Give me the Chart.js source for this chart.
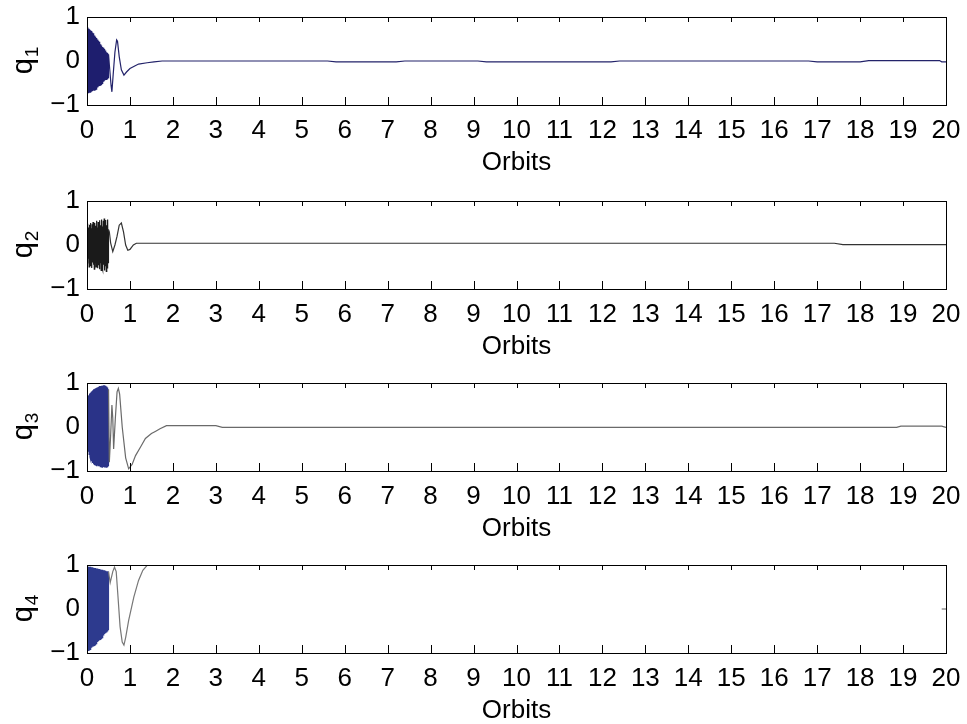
<!DOCTYPE html>
<html>
<head>
<meta charset="utf-8">
<script src="https://cdn.jsdelivr.net/npm/chart.js@4.4.1/dist/chart.umd.min.js"></script>
<style>
  body { margin: 0; background: #fff; }
  .panel { position: absolute; left: 0; width: 967px; height: 180px; }
</style>
</head>
<body>
<div class="panel" style="top:0px"><canvas id="c1" width="967" height="180"></canvas></div>
<div class="panel" style="top:184px"><canvas id="c2" width="967" height="180"></canvas></div>
<div class="panel" style="top:366px"><canvas id="c3" width="967" height="180"></canvas></div>
<div class="panel" style="top:548px"><canvas id="c4" width="967" height="180"></canvas></div>
<script>
// shared time base for the fast oscillation at the start (orbits)
const tDense = [0.00,0.01,0.02,0.03,0.04,0.05,0.06,0.07,0.08,0.09,
                0.10,0.11,0.12,0.13,0.14,0.15,0.16,0.17,0.18,0.19,
                0.20,0.21,0.22,0.23,0.24,0.25,0.26,0.27,0.28,0.29,
                0.30,0.31,0.32,0.33,0.34,0.35,0.36,0.37,0.38,0.39,
                0.40,0.41,0.42,0.43,0.44,0.45,0.46,0.47,0.48,0.49,
                0.50];

const q1Dense = [0.77,-0.70,0.76,-0.72,0.74,-0.70,0.72,-0.71,0.70,-0.69,
                 0.68,-0.70,0.65,-0.68,0.63,-0.67,0.60,-0.66,0.58,-0.65,
                 0.55,-0.64,0.52,-0.62,0.49,-0.60,0.46,-0.58,0.44,-0.57,
                 0.41,-0.55,0.38,-0.53,0.35,-0.51,0.32,-0.49,0.30,-0.47,
                 0.27,-0.45,0.24,-0.43,0.22,-0.42,0.20,-0.40,0.18,-0.38,
                 0.15];
const q1TailT = [0.53,0.56,0.58,0.61,0.65,0.69,0.71,0.75,0.80,0.86,0.92,1.00,1.10,1.20,1.40,1.56,1.75,
                 5.6,5.8,7.2,7.4,9.1,9.3,12.2,12.4,16.8,17.0,18.0,18.2,19.85,19.9,20];
const q1TailV = [-0.2,-0.55,-0.7,-0.3,0.2,0.48,0.45,0.1,-0.2,-0.32,-0.25,-0.17,-0.12,-0.07,-0.04,-0.02,0.0,
                 0.0,-0.02,-0.02,0.0,0.0,-0.02,-0.02,0.0,0.0,-0.02,-0.02,0.01,0.01,-0.02,-0.02];

const q2Dense = [0.45,-0.42,0.48,-0.30,0.40,-0.50,0.46,-0.35,0.50,-0.48,
                 0.38,-0.52,0.47,-0.40,0.52,-0.45,0.35,-0.55,0.50,-0.38,
                 0.44,-0.50,0.55,-0.42,0.40,-0.53,0.52,-0.46,0.48,-0.55,
                 0.56,-0.40,0.45,-0.58,0.58,-0.50,0.42,-0.56,0.55,-0.45,
                 0.60,-0.58,0.50,-0.48,0.57,-0.60,0.45,-0.52,0.58,-0.40,
                 0.35];
const q2TailT = [0.52,0.55,0.60,0.65,0.70,0.75,0.80,0.85,0.90,0.95,1.00,1.08,1.15,17.4,17.6,20];
const q2TailV = [0.3,0.05,-0.15,0.0,0.2,0.45,0.5,0.3,0.0,-0.12,-0.1,0.0,0.04,0.04,0.01,0.01];

const q3Dense = [0.65,-0.48,0.70,-0.55,0.72,-0.62,0.76,-0.68,0.78,-0.74,
                 0.80,-0.78,0.82,-0.82,0.84,-0.84,0.86,-0.85,0.87,-0.86,
                 0.88,-0.87,0.89,-0.88,0.90,-0.88,0.91,-0.89,0.92,-0.89,
                 0.93,-0.90,0.93,-0.90,0.94,-0.91,0.94,-0.91,0.95,-0.91,
                 0.95,-0.92,0.94,-0.92,0.93,-0.91,0.92,-0.90,0.90,-0.88,
                 0.85];
const q3TailT = [0.52,0.55,0.58,0.60,0.62,0.66,0.70,0.73,0.76,0.82,0.90,0.97,1.05,1.13,1.25,1.36,1.50,1.59,1.70,1.85,
                 3.0,3.15,18.85,18.95,19.9,20];
const q3TailV = [-0.8,-0.2,0.5,0.2,-0.5,0.2,0.8,0.88,0.75,0.0,-0.7,-0.95,-0.85,-0.65,-0.45,-0.26,-0.15,-0.1,-0.04,0.03,
                 0.03,-0.01,-0.01,0.02,0.02,-0.01];

const q4Dense = [0.97,-0.95,0.97,-0.94,0.96,-0.93,0.96,-0.92,0.96,-0.90,
                 0.95,-0.88,0.95,-0.86,0.94,-0.85,0.94,-0.83,0.93,-0.81,
                 0.93,-0.79,0.92,-0.77,0.92,-0.75,0.91,-0.73,0.91,-0.71,
                 0.90,-0.69,0.90,-0.67,0.89,-0.65,0.89,-0.62,0.88,-0.60,
                 0.88,-0.57,0.87,-0.55,0.87,-0.52,0.86,-0.50,0.86,-0.47,
                 0.85];
const q4TailT = [0.54,0.60,0.64,0.68,0.72,0.77,0.82,0.86,0.90,0.97,1.09,1.20,1.30,1.40,1.50,19.88,19.89,19.9,20];
const q4TailV = [0.6,0.85,0.95,0.85,0.3,-0.4,-0.75,-0.82,-0.65,-0.26,0.27,0.65,0.88,0.99,1.0,1.0,null,0,0];

const yTicks = [-1, 0, 1];
const xLabel = 'Orbits';

const panels = [
    { id: 'c1', sub: '1', dense: q1Dense, tailT: q1TailT, tailV: q1TailV, denseColor: '#1e1e6e', tailColor: '#23236a' },
    { id: 'c2', sub: '2', dense: q2Dense, tailT: q2TailT, tailV: q2TailV, denseColor: '#1a1a1a', tailColor: '#333333' },
    { id: 'c3', sub: '3', dense: q3Dense, tailT: q3TailT, tailV: q3TailV, denseColor: '#2a3388', tailColor: '#6a6a6a' },
    { id: 'c4', sub: '4', dense: q4Dense, tailT: q4TailT, tailV: q4TailV, denseColor: '#2d3a8e', tailColor: '#777777' }
];

const FONT = 'Liberation Sans, Arial, sans-serif';

// box around the plot with inward tick marks, plus the rotated q_n label
const framePlugin = {
    id: 'frame',
    afterDraw(chart, args, opts) {
        const ctx = chart.ctx;
        const a = chart.chartArea;
        const xs = chart.scales.x;
        ctx.save();
        ctx.strokeStyle = '#000';
        ctx.lineWidth = 1;
        ctx.strokeRect(Math.round(a.left) + 0.5, Math.round(a.top) + 0.5,
                       Math.round(a.right - a.left), Math.round(a.bottom - a.top));
        ctx.beginPath();
        for (let v = 1; v < 20; v++) {
            const px = Math.round(xs.getPixelForValue(v)) + 0.5;
            ctx.moveTo(px, a.bottom);
            ctx.lineTo(px, a.bottom - 8);
            ctx.moveTo(px, a.top);
            ctx.lineTo(px, a.top + 5);
        }
        ctx.stroke();

        // y label: q with subscript, rotated
        const cy = (a.top + a.bottom) / 2;
        ctx.translate(opts.labelX, cy);
        ctx.rotate(-Math.PI / 2);
        ctx.fillStyle = '#000';
        ctx.textBaseline = 'alphabetic';
        ctx.font = '29px ' + FONT;
        const wq = ctx.measureText('q').width;
        ctx.font = '19px ' + FONT;
        const wd = ctx.measureText(opts.sub).width;
        const x0 = -(wq + wd) / 2;
        ctx.font = '29px ' + FONT;
        ctx.fillText('q', x0, 0);
        ctx.font = '19px ' + FONT;
        ctx.fillText(opts.sub, x0 + wq + 1, 6);
        ctx.restore();
    }
};

function buildPoints(p) {
    const pts = tDense.map((t, i) => ({ x: t, y: p.dense[i] }));
    p.tailT.forEach((t, i) => pts.push({ x: t, y: p.tailV[i] }));
    return pts;
}

panels.forEach(p => {
    new Chart(document.getElementById(p.id), {
        type: 'line',
        data: {
            datasets: [{
                data: buildPoints(p),
                borderWidth: 1.2,
                pointRadius: 0,
                tension: 0,
                spanGaps: false,
                borderColor: p.tailColor,
                segment: {
                    borderColor: ctx => ctx.p1.parsed.x <= 0.5 ? p.denseColor : p.tailColor
                }
            }]
        },
        options: {
            responsive: false,
            animation: false,
            devicePixelRatio: 1,
            layout: { padding: { top: 17, right: 21, left: 0, bottom: 0 } },
            plugins: {
                legend: { display: false },
                tooltip: { enabled: false },
                frame: { labelX: 32, sub: p.sub }
            },
            scales: {
                x: {
                    type: 'linear',
                    min: 0,
                    max: 20,
                    grid: { display: false, drawTicks: false },
                    border: { display: false },
                    ticks: {
                        stepSize: 1,
                        padding: 10,
                        maxRotation: 0,
                        autoSkip: false,
                        color: '#000',
                        font: { family: FONT, size: 26 }
                    },
                    title: {
                        display: true,
                        text: xLabel,
                        color: '#000',
                        font: { family: FONT, size: 26 },
                        padding: { top: 0, bottom: 2 }
                    },
                    afterFit: s => {
                        s.height = 75;
                        s.paddingLeft = 0;
                        s.paddingRight = 0;
                    }
                },
                y: {
                    min: -1,
                    max: 1,
                    grid: { display: false, drawTicks: false },
                    border: { display: false },
                    afterBuildTicks: s => { s.ticks = yTicks.map(v => ({ value: v })); },
                    ticks: {
                        padding: 7,
                        color: '#000',
                        font: { family: FONT, size: 26 },
                        callback: v => v < 0 ? '\u2212' + Math.abs(v) : String(v)
                    },
                    afterFit: s => {
                        s.width = 87;
                        s.paddingTop = 0;
                        s.paddingBottom = 0;
                    }
                }
            }
        },
        plugins: [framePlugin]
    });
});
</script>
</body>
</html>
